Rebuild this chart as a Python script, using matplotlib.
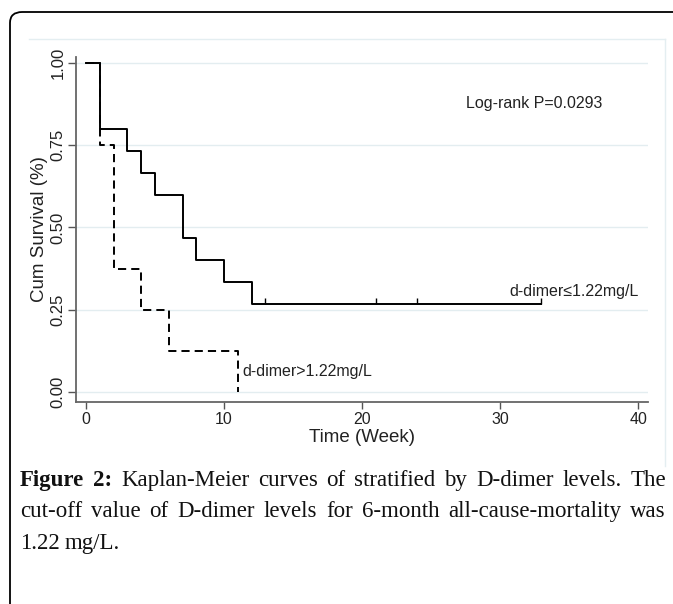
import matplotlib
matplotlib.use('Agg')
import matplotlib.pyplot as plt
from matplotlib.patches import FancyBboxPatch
from matplotlib.lines import Line2D

# Kaplan-Meier steps
low_time = [0, 1, 3, 4, 5, 7, 8, 10, 12, 33]
low_surv = [1.0, 0.800, 0.733, 0.667, 0.600, 0.467, 0.400, 0.333, 0.267, 0.267]
low_censor_time = [13, 21, 24, 33]
low_censor_surv = [0.267, 0.267, 0.267, 0.267]

high_time = [0, 1, 2, 4, 6, 11]
high_surv = [1.0, 0.750, 0.375, 0.250, 0.125, 0.0]

x_ticks = [0, 10, 20, 30, 40]
y_ticks = [0.0, 0.25, 0.50, 0.75, 1.00]
y_tick_labels = ['0.00', '0.25', '0.50', '0.75', '1.00']

caption_lines = [
    'Figure 2: Kaplan-Meier curves of stratified by D-dimer levels. The',
    'cut-off value of D-dimer levels for 6-month all-cause-mortality was',
    '1.22 mg/L.',
]

W, H = 673, 604
fig = plt.figure(figsize=(W / 100, H / 100), dpi=100)
plt.rcParams['font.family'] = ['Liberation Sans', 'DejaVu Sans']


def fx(px):
    return px / W


def fy(py):
    return 1 - py / H


# outer rounded frame (runs off the right and bottom edges)
frame = FancyBboxPatch((fx(10), fy(700)), fx(760), fy(12) - fy(700),
                       boxstyle='round,pad=0,rounding_size=0.018',
                       transform=fig.transFigure, fill=False,
                       edgecolor='black', linewidth=1.3)
fig.patches.append(frame)

# faint graph-region border (top and right)
fig.add_artist(Line2D([fx(29), fx(665)], [fy(39), fy(39)], color='#e4eef1', lw=1))
fig.add_artist(Line2D([fx(665), fx(665)], [fy(39), fy(466)], color='#e4eef1', lw=1))

ax = fig.add_axes([fx(76), fy(402), fx(648) - fx(76), fy(57) - fy(402)])

ax.step(low_time, low_surv, where='post', color='black', lw=1.4)
ax.step(high_time, high_surv, where='post', color='black', lw=1.4,
        linestyle=(0, (4.2, 2.6)))
ax.plot(low_censor_time, low_censor_surv, linestyle='none', color='black',
        marker=[(0, 0), (0, 1)], markersize=9, markeredgewidth=1.0)

ax.text(27.5, 0.878, 'Log-rank P=0.0293', fontsize=11.5, va='center', color='#222222')
ax.text(30.7, 0.304, 'd-dimer\u22641.22mg/L', fontsize=11.5, va='center', color='#222222')
ax.text(11.3, 0.063, 'd-dimer>1.22mg/L', fontsize=11.5, va='center', color='#222222')

ax.set_xlim(-0.725, 40.72)
ax.set_ylim(-0.0304, 1.018)
ax.set_xticks(x_ticks)
ax.set_yticks(y_ticks)
ax.set_yticklabels(y_tick_labels, rotation=90, va='center')
ax.tick_params(axis='x', labelsize=11.5, length=5, width=1, color='#555555',
               labelcolor='#222222', pad=2)
ax.tick_params(axis='y', labelsize=12, length=6, width=1, color='#555555',
               labelcolor='#222222', pad=1.5)

ax.yaxis.grid(True, color='#e3edf0', lw=1)
ax.set_axisbelow(True)
for s in ['top', 'right']:
    ax.spines[s].set_visible(False)
for s in ['left', 'bottom']:
    ax.spines[s].set_color('#666666')
    ax.spines[s].set_linewidth(1.3)

ax.set_xlabel('Time (Week)', fontsize=13.5, color='#222222', labelpad=2)
ax.set_ylabel('Cum Survival (%)', fontsize=13.5, color='#222222')
ax.yaxis.set_label_coords((48 - 76) / 572, 0.5)

# caption, justified word by word
renderer = fig.canvas.get_renderer()
baselines = [486, 517, 549]
x0, x1 = 20, 666
for i, line in enumerate(caption_lines):
    words = line.split(' ')
    texts = []
    for j, w in enumerate(words):
        bold = (i == 0 and j < 2)
        t = fig.text(0, fy(baselines[i]), w, fontsize=16.5, family='Liberation Serif',
                     weight='bold' if bold else 'normal', va='baseline', color='#111111')
        texts.append(t)
    widths = [t.get_window_extent(renderer).width for t in texts]
    if i < len(caption_lines) - 1:
        gap = (x1 - x0 - sum(widths)) / (len(words) - 1)
    else:
        gap = 5
    x = x0
    for t, wd in zip(texts, widths):
        t.set_x(fx(x))
        x += wd + gap

fig.savefig('out.png', dpi=100)
